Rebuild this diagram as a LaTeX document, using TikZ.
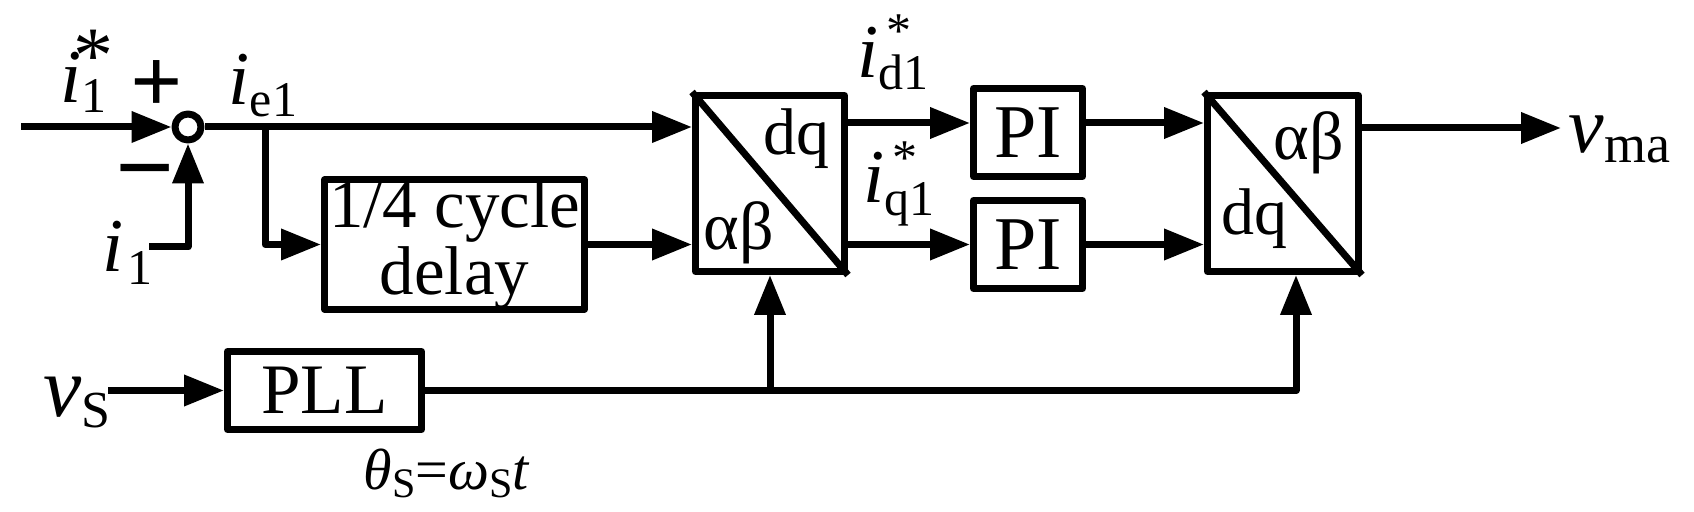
\documentclass[tikz,border=0pt]{standalone}
\usepackage{fontspec}
\setmainfont{Liberation Serif}
\usetikzlibrary{arrows.meta}
\newcommand\fm{\fontsize{19pt}{19pt}\selectfont}
\newcommand\fsb{\fontsize{12.5pt}{12.5pt}\selectfont}
\begin{document}
\begin{tikzpicture}[x=0.25pt,y=-0.25pt,
  lw/.style={line width=1.75pt,line join=round},
  blk/.style={draw,lw,inner sep=0pt},
  ar/.style={lw,-{Triangle[length=10pt,width=7.5pt]}},
  ln/.style={lw},
  lab/.style={inner sep=0pt,anchor=base west}]
\useasboundingbox (0,0) rectangle (1694,512);

% blocks
\node[blk,circle,minimum size=6.5pt] (sum) at (188,127) {};
\node[blk,minimum width=65pt,minimum height=32pt,align=center,
      font={\fontsize{17.25pt}{15pt}\selectfont}] (delay) at (454.5,244.5) {1/4 cycle\\delay};
\node[blk,minimum width=37.25pt,minimum height=44pt] (b1) at (770,183.5) {};
\node[blk,minimum width=27.25pt,minimum height=22pt,font=\fm] (pi1) at (1028,132.5) {PI};
\node[blk,minimum width=27.25pt,minimum height=22pt,font=\fm] (pi2) at (1028,244.5) {PI};
\node[blk,minimum width=37.75pt,minimum height=44pt] (b2) at (1283,183.5) {};
\node[blk,minimum width=48.5pt,minimum height=19.5pt,
      font={\fontsize{17.75pt}{17.75pt}\selectfont}] (pll) at (324.5,390.5) {PLL};

% diagonals
\draw[ln] (b1.north west) -- (b1.south east);
\draw[ln] (b2.north west) -- (b2.south east);

% block labels
\node[lab,font={\fontsize{16.5pt}{16.5pt}\selectfont}] (b1dq) at (763,155) {dq};
\node[lab,font={\fontsize{17pt}{17pt}\selectfont}] (b1ab) at (703,250) {αβ};
\node[lab,font={\fontsize{17pt}{17pt}\selectfont}] (b2ab) at (1273,160) {αβ};
\node[lab,font={\fontsize{16.5pt}{16.5pt}\selectfont}] (b2dq) at (1221,235) {dq};

% coordinates
\coordinate (in1) at (21,127);
\coordinate (in2) at (149,247);
\coordinate (br) at (265,127);
\coordinate (r1) at (0,123);
\coordinate (r2) at (0,244.5);
\coordinate (r3) at (0,128);
\coordinate (vout) at (1561,128);
\coordinate (vsin) at (108,390.5);
\coordinate (fb2) at (1296,275);

% connectors
\draw[ar] (in1) -- (sum.west);
\draw[ar] (in2) -| (sum.south);
\draw[ar] (sum.east) -- (sum.east -| b1.west);
\draw[ar] (br) |- (delay.west);
\draw[ar] (delay.east) -- (delay.east -| b1.west);
\draw[ar] (b1.east |- r1) -- (pi1.west |- r1);
\draw[ar] (b1.east |- r2) -- (pi2.west |- r2);
\draw[ar] (pi1.east |- r1) -- (b2.west |- r1);
\draw[ar] (pi2.east |- r2) -- (b2.west |- r2);
\draw[ar] (b2.east |- r3) -- (vout);
\draw[ar] (vsin) -- (pll.west);
\draw[ar] (pll.east) -| (fb2);
\draw[ar] (b1.south |- pll.east) -- (b1.south);

% signal labels
\node[lab] (li1s) at (60,103) {\fm\textit{i}\rlap{\raisebox{-2.5pt}{\fsb 1}}\hspace{-2pt}\raisebox{5pt}{\fontsize{20pt}{20pt}\selectfont *}};
\node[inner sep=0pt,font={\fontsize{23pt}{23pt}\selectfont\bfseries}] (plus) at (157,87) {+};
\node[inner sep=0pt,font={\fontsize{26pt}{26pt}\selectfont\bfseries}] (minus) at (145,183) {−};
\node[lab] (lie1) at (228,105) {\fm\textit{i}\raisebox{-3pt}{\fsb e1}};
\node[lab] (li1) at (102,272) {\fm\textit{i}\hspace{1pt}\raisebox{-3.25pt}{\fsb 1}};
\node[lab] (lid) at (857,78) {\fm\textit{i}\rlap{\raisebox{-3pt}{\fsb d1}}\hspace{2pt}\raisebox{7.5pt}{\fsb *}};
\node[lab] (liq) at (863,203) {\fm\textit{i}\rlap{\raisebox{-3.25pt}{\fsb q1}}\hspace{2pt}\raisebox{7pt}{\fsb *}};
\node[lab] (lvma) at (1568,153) {{\fontsize{20pt}{20pt}\selectfont\textit{v}}\raisebox{-2.5pt}{\fontsize{13.5pt}{13.5pt}\selectfont ma}};
\node[lab] (lvs) at (43,417) {{\fontsize{21.5pt}{21.5pt}\selectfont\textit{v}}\raisebox{-2.75pt}{\fontsize{13pt}{13pt}\selectfont S}};
\node[lab] (lth) at (363,490) {\fontsize{14.5pt}{14.5pt}\selectfont\textit{θ}\raisebox{-2pt}{\fontsize{10.5pt}{10.5pt}\selectfont S}=\textit{ω}\raisebox{-2pt}{\fontsize{10.5pt}{10.5pt}\selectfont S}\textit{t}};
\end{tikzpicture}
\end{document}
